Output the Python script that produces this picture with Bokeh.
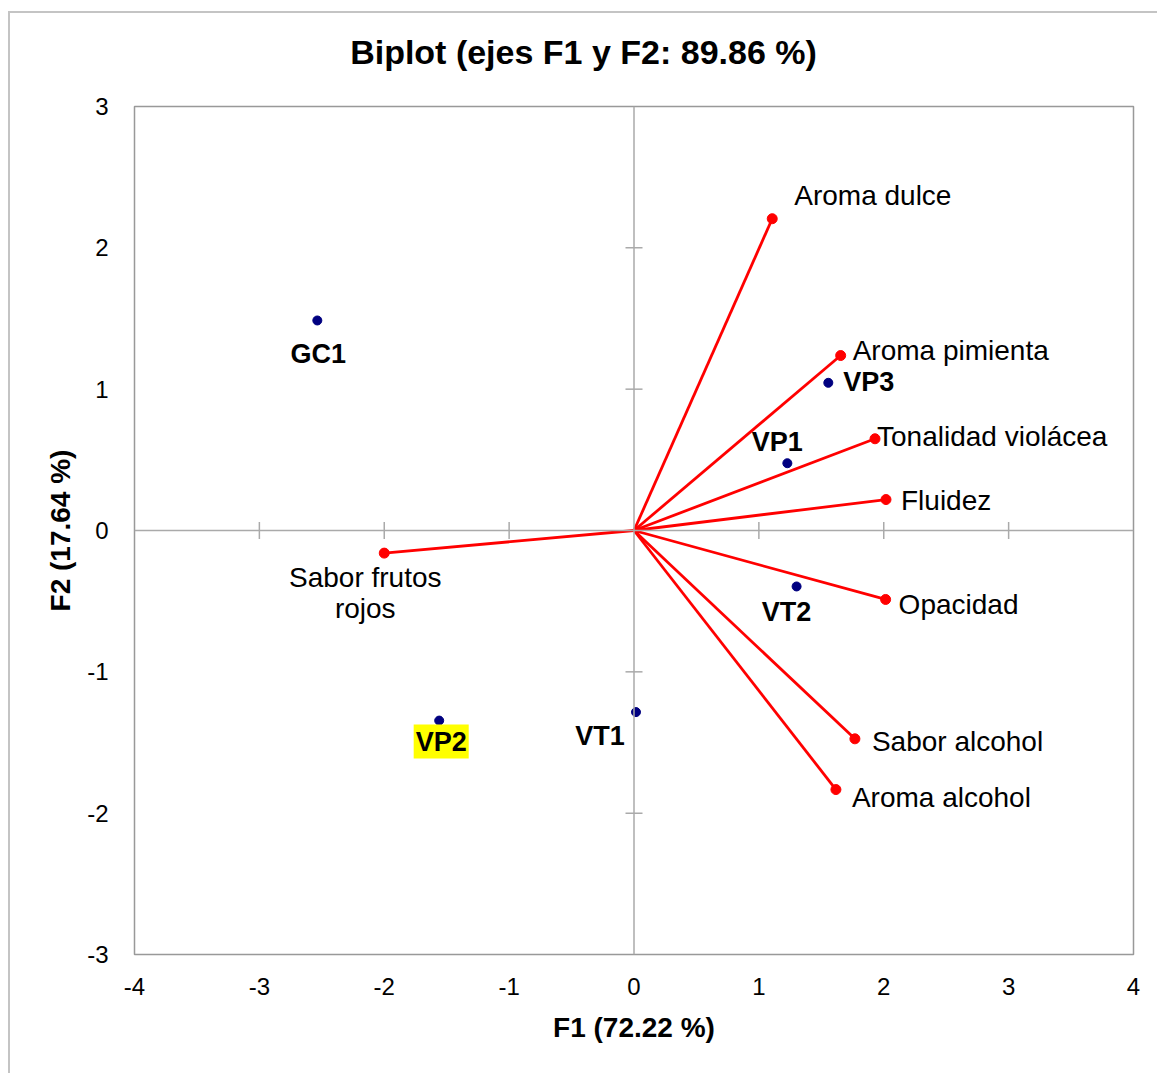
import math
from bokeh.plotting import figure
from bokeh.layouts import column
from bokeh.models import ColumnDataSource, FixedTicker, Span, Div
from bokeh.core.properties import value
from bokeh.embed import file_html
from bokeh.resources import INLINE

# ---- data ----
var_names = ["Aroma dulce", "Aroma pimienta", "Tonalidad violácea", "Fluidez",
             "Opacidad", "Sabor alcohol", "Aroma alcohol", "Sabor frutos\nrojos"]
var_f1 = [1.107, 1.655, 1.930, 2.018, 2.015, 1.769, 1.617, -2.00]
var_f2 = [2.206, 1.238, 0.649, 0.219, -0.488, -1.474, -1.833, -0.16]

obs_names = ["GC1", "VP3", "VP1", "VT2", "VT1", "VP2"]
obs_f1 = [-2.536, 1.556, 1.228, 1.302, 0.016, -1.56]
obs_f2 = [1.486, 1.045, 0.476, -0.396, -1.285, -1.345]

x_ticks = [-4, -3, -2, -1, 0, 1, 2, 3, 4]
x_tick_labels = ["-4", "-3", "-2", "-1", "0", "1", "2", "3", "4"]
y_ticks = [-3, -2, -1, 0, 1, 2, 3]
y_tick_labels = ["-3", "-2", "-1", "0", "1", "2", "3"]

title_text = "Biplot (ejes F1 y F2: 89.86 %)"

# label styling (screen offsets / alignment)
var_dx = [22, 12, 2, 15, 13, 17, 16, -19]
var_dy = [-23, -5, -2, 1, 5, 3, 8, 40]
var_align = ["left"] * 7 + ["center"]
obs_dx = [1, 13, -10, -10, -36, 2]
obs_dy = [34, -1, -21, 26, 24, 21]
obs_align = ["center", "left", "center", "center", "center", "center"]

FONT = "Liberation Sans"

title_div = Div(
    text=('<div style="font-family:\'Liberation Sans\';font-weight:bold;font-size:34px;'
          'line-height:40px;color:black;text-align:center;padding-top:19px;'
          'padding-left:28px;width:1119px;">' + title_text + '</div>'),
    width=1147, height=60, margin=(0, 0, 0, 0))

p = figure(width=1147, height=1000, x_range=(-4, 4), y_range=(-3, 3),
           output_backend="svg", toolbar_location=None, margin=(0, 0, 0, 0),
           min_border_left=124, min_border_right=24, min_border_top=33, min_border_bottom=119)

p.grid.visible = False
p.outline_line_color = "#999999"
p.outline_line_width = 1.5
p.background_fill_color = "white"
p.border_fill_color = "white"

p.xaxis.ticker = FixedTicker(ticks=x_ticks)
p.yaxis.ticker = FixedTicker(ticks=y_ticks)
p.xaxis.major_label_overrides = dict(zip(x_ticks, x_tick_labels))
p.yaxis.major_label_overrides = dict(zip(y_ticks, y_tick_labels))
for ax in (p.xaxis[0], p.yaxis[0]):
    ax.axis_line_color = None
    ax.major_tick_line_color = None
    ax.minor_tick_line_color = None
    ax.major_label_text_font = FONT
    ax.major_label_text_font_size = "24px"
    ax.major_label_text_color = "black"
    ax.axis_label_text_font = FONT
    ax.axis_label_text_font_size = "28px"
    ax.axis_label_text_font_style = "bold"
    ax.axis_label_text_color = "black"
p.xaxis.axis_label = "F1 (72.22 %)"
p.yaxis.axis_label = "F2 (17.64 %)"
p.xaxis.major_label_standoff = 17
p.yaxis.major_label_standoff = 20
p.xaxis.axis_label_standoff = 14
p.yaxis.axis_label_standoff = 8

# center axes
p.add_layout(Span(location=0, dimension="width", line_color="#aaaaaa", line_width=1.5))
p.add_layout(Span(location=0, dimension="height", line_color="#aaaaaa", line_width=1.5))
xt = [t for t in x_ticks if t not in (0, -4, 4)]
yt = [t for t in y_ticks if t not in (0, -3, 3)]
p.scatter(xt, [0] * len(xt), marker="dash", size=17, angle=math.pi / 2,
          line_color="#aaaaaa", line_width=1.5)
p.scatter([0] * len(yt), yt, marker="dash", size=17,
          line_color="#aaaaaa", line_width=1.5)

# variable vectors
vsrc = ColumnDataSource(dict(x0=[0] * len(var_f1), y0=[0] * len(var_f2), x=var_f1, y=var_f2,
                             name=var_names, dx=var_dx, dy=var_dy, align=var_align))
p.segment("x0", "y0", "x", "y", source=vsrc, line_color="#ff0000", line_width=2.8)
p.scatter("x", "y", source=vsrc, size=10, color="#ff0000")
p.text("x", "y", text="name", source=vsrc, x_offset="dx", y_offset="dy",
       text_align="align", text_baseline="middle", text_font=value(FONT),
       text_font_size="28px", text_color="black", text_line_height=1.0)

# observations
osrc = ColumnDataSource(dict(x=obs_f1, y=obs_f2, name=obs_names, dx=obs_dx, dy=obs_dy,
                             align=obs_align,
                             bg=[None, None, None, None, None, "#ffff00"]))
p.scatter("x", "y", source=osrc, size=9, color="#000080")
p.text("x", "y", text="name", source=osrc, x_offset="dx", y_offset="dy",
       text_align="align", text_baseline="middle", text_font=value(FONT),
       text_font_size="27px", text_font_style="bold", text_color="black",
       background_fill_color="bg", padding=2)

layout = column(title_div, p, spacing=0, margin=(0, 0, 0, 0))
layout.styles = {"margin-left": "8px", "margin-top": "11px", "background": "white",
                 "border-left": "2px solid #c4c4c4", "border-top": "2px solid #c4c4c4"}

open("out.html", "w").write(file_html(layout, INLINE))
